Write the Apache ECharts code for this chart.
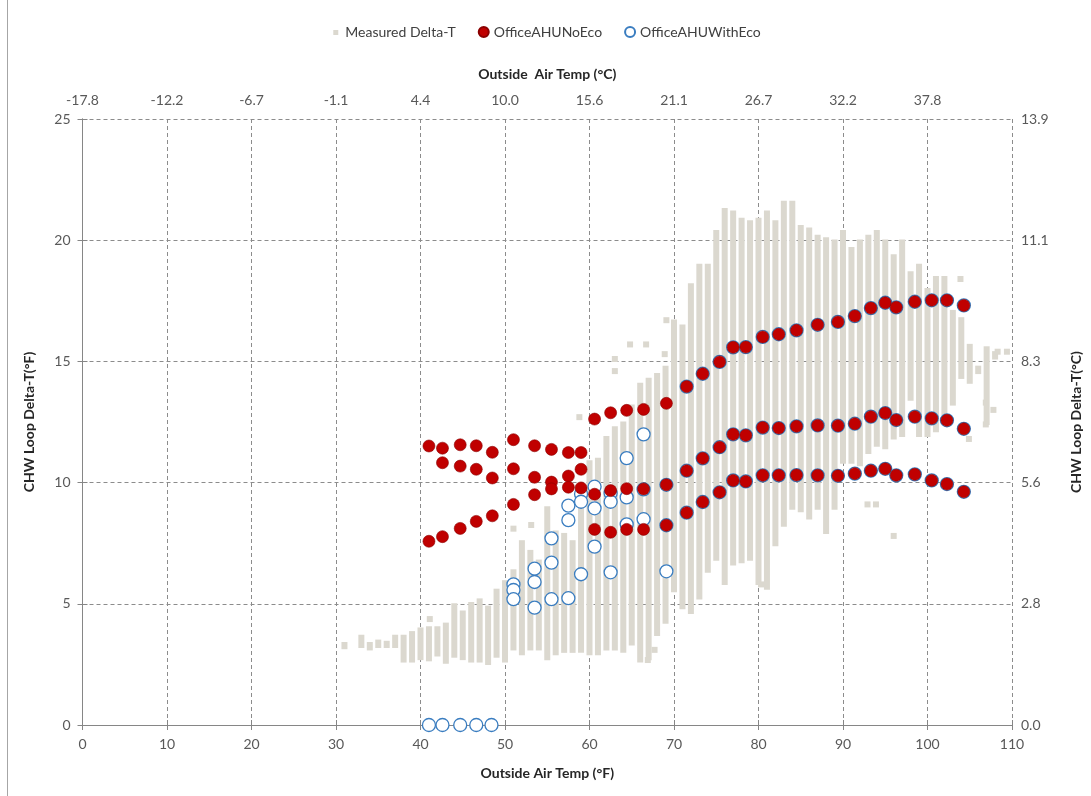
<!DOCTYPE html>
<html>
<head>
<meta charset="utf-8">
<script src="https://cdn.jsdelivr.net/npm/echarts@6/dist/echarts.min.js"></script>
<style>
  html, body { margin: 0; padding: 0; background: #fff; }
  #chart { width: 1091px; height: 796px; }
</style>
</head>
<body>
<div id="chart"></div>
<script>
// axis labels
const topTickLabels = ['-17.8', '-12.2', '-6.7', '-1.1', '4.4', '10.0', '15.6', '21.1', '26.7', '32.2', '37.8', '']
const rightTickLabels = ['0.0', '2.8', '5.6', '8.3', '11.1', '13.9']

// measured delta-T, one column per degF: low / high of the band
const cloudTemp = [31, 33, 34, 35, 36, 37, 38, 39, 40, 41, 42, 43, 44, 45, 46, 47, 48, 49, 50,
  51, 52, 53, 54, 55, 56, 57, 58, 59, 60, 61, 62, 63, 64, 65, 66, 67, 68, 69, 70,
  71, 72, 73, 74, 75, 76, 77, 78, 79, 80, 81, 82, 83, 84, 85, 86, 87, 88, 89, 90,
  91, 92, 93, 94, 95, 96, 97, 98, 99, 100, 101, 102, 103, 104, 105, 106, 107, 108]
const cloudLow = [3.25, 3.3, 3.2, 3.3, 3.3, 3.3, 2.7, 2.7, 2.8, 2.75, 2.95, 2.65, 2.9, 2.8, 2.7, 2.7, 2.6, 2.9, 2.7,
  3.2, 3.0, 3.2, 3.2, 2.8, 3.0, 3.1, 3.1, 3.1, 3.0, 3.0, 3.2, 3.2, 3.1, 3.4, 2.7, 2.8, 3.8, 4.3, 5.6,
  4.9, 4.7, 5.3, 6.4, 6.9, 5.9, 6.7, 6.8, 6.9, 5.9, 5.7, 7.5, 8.3, 9.0, 8.9, 8.6, 9.0, 8.0, 9.0, 10.9,
  10.9, 10.8, 11.3, 11.6, 11.5, 11.9, 12.0, 13.5, 12.0, 12.0, 12.2, 12.9, 13.3, 14.4, 14.2, 14.6, 12.5, 15.2]
const cloudHigh = [3.3, 3.6, 3.3, 3.4, 3.35, 3.6, 3.6, 3.75, 3.9, 3.95, 3.95, 4.1, 4.9, 4.6, 4.95, 5.1, 4.8, 5.5, 5.85,
  6.3, 7.5, 7.1, 6.7, 8.9, 7.9, 7.8, 7.5, 9.8, 10.8, 10.9, 11.8, 12.2, 12.4, 13.1, 14.0, 14.2, 14.4, 14.7, 16.6,
  16.4, 18.1, 18.9, 18.9, 20.3, 21.2, 21.1, 20.8, 20.7, 20.8, 21.1, 20.7, 21.5, 21.5, 20.5, 20.4, 20.1, 20.0, 19.9, 20.3,
  19.6, 19.9, 20.1, 20.3, 19.9, 19.3, 19.9, 18.6, 18.9, 17.9, 18.4, 18.4, 17.0, 16.7, 15.6, 14.7, 15.5, 15.3]
// scattered single readings
const cloudExtra = [
  [41.1, 4.37], [51, 8.1], [53.1, 8.25], [58.8, 12.7], [63, 15.1], [63, 14.6], [64.8, 15.7],
  [66.7, 15.7], [68.9, 15.3], [69.1, 16.7], [66.9, 2.68], [67.7, 3.1], [80.3, 5.8], [92.9, 9.1],
  [93.9, 9.1], [96, 7.8], [103.9, 18.4], [104.9, 11.8], [106.9, 13.3], [106.9, 12.4], [108.3, 15.4],
  [109.4, 15.4], [107.8, 13.0]
]

// OfficeAHUNoEco [degF, delta-T degF]
const noEcoPoints = [
  [41.0, 11.51], [41.0, 7.58],
  [42.6, 11.42], [42.6, 10.82], [42.6, 7.77],
  [44.7, 11.56], [44.7, 10.68], [44.7, 8.11],
  [46.6, 11.52], [46.6, 10.55], [46.6, 8.40],
  [48.5, 11.25], [48.5, 10.19], [48.5, 8.63],
  [51.0, 11.77], [51.0, 10.57], [51.0, 9.10],
  [53.5, 11.52], [53.5, 10.22], [53.5, 9.50],
  [55.5, 11.37], [55.5, 10.02], [55.5, 9.74],
  [57.5, 11.24], [57.5, 10.27], [57.5, 9.81],
  [59.0, 11.24], [59.0, 10.55], [59.0, 9.78],
  [60.6, 12.62], [60.6, 9.52], [60.6, 8.07],
  [62.5, 12.88], [62.5, 9.67], [62.5, 7.95],
  [64.4, 12.98], [64.4, 9.75], [64.4, 8.07],
  [66.4, 13.02], [66.4, 9.74], [66.4, 8.07],
  [69.1, 13.27], [69.1, 9.91], [69.1, 8.24],
  [71.5, 13.96], [71.5, 10.49], [71.5, 8.76],
  [73.4, 14.49], [73.4, 11.00], [73.4, 9.20],
  [75.4, 14.98], [75.4, 11.46], [75.4, 9.60],
  [77.0, 15.58], [77.0, 11.99], [77.0, 10.09],
  [78.5, 15.59], [78.5, 11.95], [78.5, 10.05],
  [80.5, 16.01], [80.5, 12.27], [80.5, 10.30],
  [82.4, 16.12], [82.4, 12.25], [82.4, 10.30],
  [84.5, 16.28], [84.5, 12.32], [84.5, 10.31],
  [87.0, 16.51], [87.0, 12.36], [87.0, 10.30],
  [89.4, 16.63], [89.4, 12.35], [89.4, 10.28],
  [91.4, 16.87], [91.4, 12.43], [91.4, 10.37],
  [93.3, 17.20], [93.3, 12.72], [93.3, 10.49],
  [95.0, 17.42], [95.0, 12.87], [95.0, 10.57],
  [96.3, 17.23], [96.3, 12.58], [96.3, 10.30],
  [98.5, 17.46], [98.5, 12.72], [98.5, 10.34],
  [100.5, 17.52], [100.5, 12.65], [100.5, 10.09],
  [102.3, 17.52], [102.3, 12.57], [102.3, 9.94],
  [104.3, 17.31], [104.3, 12.22], [104.3, 9.62]
]

// OfficeAHUWithEco [degF, delta-T degF]
const withEcoPoints = [
  [41.0, 0], [42.6, 0], [44.7, 0], [46.6, 0], [48.4, 0],
  [51.0, 5.80], [51.0, 5.57], [51.0, 5.19],
  [53.5, 6.45], [53.5, 5.90], [53.5, 4.84],
  [55.5, 7.70], [55.5, 6.70], [55.5, 5.19],
  [57.5, 9.05], [57.5, 8.45], [57.5, 5.23],
  [59.0, 9.53], [59.0, 9.21], [59.0, 6.22],
  [60.6, 9.83], [60.6, 8.94], [60.6, 7.36],
  [62.5, 9.56], [62.5, 9.21], [62.5, 6.30],
  [64.4, 11.01], [64.4, 9.39], [64.4, 8.28],
  [66.4, 11.99], [66.4, 9.72], [66.4, 8.49],
  [69.1, 9.91], [69.1, 8.24], [69.1, 6.34],
  [71.5, 13.96], [71.5, 10.49], [71.5, 8.76],
  [73.4, 14.49], [73.4, 11.00], [73.4, 9.20],
  [75.4, 14.98], [75.4, 11.46], [75.4, 9.60],
  [77.0, 15.58], [77.0, 11.99], [77.0, 10.09],
  [78.5, 15.59], [78.5, 11.95], [78.5, 10.05],
  [80.5, 16.01], [80.5, 12.27], [80.5, 10.30],
  [82.4, 16.12], [82.4, 12.25], [82.4, 10.30],
  [84.5, 16.28], [84.5, 12.32], [84.5, 10.31],
  [87.0, 16.51], [87.0, 12.36], [87.0, 10.30],
  [89.4, 16.63], [89.4, 12.35], [89.4, 10.28],
  [91.4, 16.87], [91.4, 12.43], [91.4, 10.37],
  [93.3, 17.20], [93.3, 12.72], [93.3, 10.49],
  [95.0, 17.42], [95.0, 12.87], [95.0, 10.57],
  [96.3, 17.23], [96.3, 12.58], [96.3, 10.30],
  [98.5, 17.46], [98.5, 12.72], [98.5, 10.34],
  [100.5, 17.52], [100.5, 12.65], [100.5, 10.09],
  [102.3, 17.52], [102.3, 12.57], [102.3, 9.94],
  [104.3, 17.31], [104.3, 12.22], [104.3, 9.62]
]

const cloudColor = '#dbd8cf'
const redColor = '#c00000'
const blueColor = '#3a7dc0'
const axisColor = '#868686'
const labelColor = '#595959'
const fontName = 'Lato, "Open Sans", sans-serif'

let cloudRows = cloudTemp.map((t, i) => [t, cloudLow[i], cloudHigh[i]])

let chart = echarts.init(document.getElementById('chart'), null, { renderer: 'canvas' })

let axisLineStyle = { show: true, lineStyle: { color: axisColor, width: 1 } }
let tickStyle = { show: true, length: 5, lineStyle: { color: axisColor } }
let gridDash = { show: true, lineStyle: { color: '#8c8c8c', type: [4, 3], width: 1 } }

let option = {
  backgroundColor: '#fff',
  animation: false,
  textStyle: { fontFamily: fontName },
  graphic: [{
    type: 'line',
    shape: { x1: 7.5, y1: 0, x2: 7.5, y2: 796 },
    style: { stroke: '#a6a6a6', lineWidth: 1 }
  }],
  legend: {
    top: 20,
    left: 'center',
    itemGap: 22,
    itemWidth: 10,
    itemHeight: 10,
    textStyle: { fontSize: 14, color: '#404040', fontFamily: fontName },
    data: [
      { name: 'Measured Delta-T', icon: 'path://M0,0M10,10M3,3h5v5h-5z' },
      { name: 'OfficeAHUNoEco', icon: 'circle' },
      { name: 'OfficeAHUWithEco', icon: 'circle' }
    ]
  },
  grid: { left: 82.5, right: 78, top: 119, bottom: 71 },
  xAxis: [{
    type: 'value',
    position: 'bottom',
    min: 0, max: 110, interval: 10,
    name: 'Outside Air Temp (°F)',
    nameLocation: 'middle',
    nameGap: 41,
    nameTextStyle: { fontWeight: 'bold', fontSize: 14, color: '#262626', fontFamily: fontName },
    axisLine: axisLineStyle,
    axisTick: tickStyle,
    axisLabel: { color: labelColor, fontSize: 14, margin: 12, fontFamily: fontName },
    splitLine: gridDash
  }, {
    type: 'value',
    position: 'top',
    min: 0, max: 110, interval: 10,
    name: 'Outside  Air Temp (°C)',
    nameLocation: 'middle',
    nameGap: 38,
    nameTextStyle: { fontWeight: 'bold', fontSize: 14, color: '#262626', fontFamily: fontName },
    axisLine: axisLineStyle,
    axisTick: tickStyle,
    axisLabel: {
      color: labelColor, fontSize: 14, margin: 12, fontFamily: fontName,
      formatter: (v) => topTickLabels[Math.round(v / 10)]
    },
    splitLine: { show: false }
  }],
  yAxis: [{
    type: 'value',
    position: 'left',
    min: 0, max: 25, interval: 5,
    name: 'CHW Loop Delta-T(°F)',
    nameLocation: 'middle',
    nameGap: 46,
    nameRotate: 90,
    nameTextStyle: { fontWeight: 'bold', fontSize: 14, color: '#262626', fontFamily: fontName },
    axisLine: axisLineStyle,
    axisTick: tickStyle,
    axisLabel: { color: labelColor, fontSize: 14, margin: 12, fontFamily: fontName },
    splitLine: gridDash
  }, {
    type: 'value',
    position: 'right',
    min: 0, max: 25, interval: 5,
    name: 'CHW Loop Delta-T(°C)',
    nameLocation: 'middle',
    nameGap: 57,
    nameRotate: 90,
    nameTextStyle: { fontWeight: 'bold', fontSize: 14, color: '#262626', fontFamily: fontName },
    axisLine: axisLineStyle,
    axisTick: tickStyle,
    axisLabel: {
      color: labelColor, fontSize: 14, margin: 9, fontFamily: fontName,
      formatter: (v) => rightTickLabels[Math.round(v / 5)]
    },
    splitLine: { show: false }
  }],
  series: [{
    name: 'Measured Delta-T',
    type: 'custom',
    xAxisIndex: 0,
    yAxisIndex: 0,
    z: 1,
    itemStyle: { color: cloudColor },
    encode: { x: 0, y: [1, 2] },
    data: cloudRows,
    renderItem: function (params, api) {
      let top = api.coord([api.value(0), api.value(2)])
      let bottom = api.coord([api.value(0), api.value(1)])
      let h = Math.max(bottom[1] - top[1], 0) + 6
      return {
        type: 'rect',
        shape: { x: top[0] - 3, y: top[1] - 3, width: 6, height: h },
        style: { fill: cloudColor }
      }
    }
  }, {
    name: 'Measured Delta-T',
    type: 'scatter',
    z: 1,
    symbol: 'rect',
    symbolSize: 6,
    itemStyle: { color: cloudColor, opacity: 1 },
    data: cloudExtra
  }, {
    name: 'OfficeAHUWithEco',
    type: 'scatter',
    z: 2,
    symbol: 'circle',
    symbolSize: 13,
    itemStyle: { color: '#fff', borderColor: blueColor, borderWidth: 1.3, opacity: 1 },
    data: withEcoPoints
  }, {
    name: 'OfficeAHUNoEco',
    type: 'scatter',
    z: 3,
    symbol: 'circle',
    symbolSize: 12,
    itemStyle: { color: redColor, borderColor: '#8a0000', borderWidth: 0.6, opacity: 1 },
    data: noEcoPoints
  }]
}

chart.setOption(option)
</script>
</body>
</html>
